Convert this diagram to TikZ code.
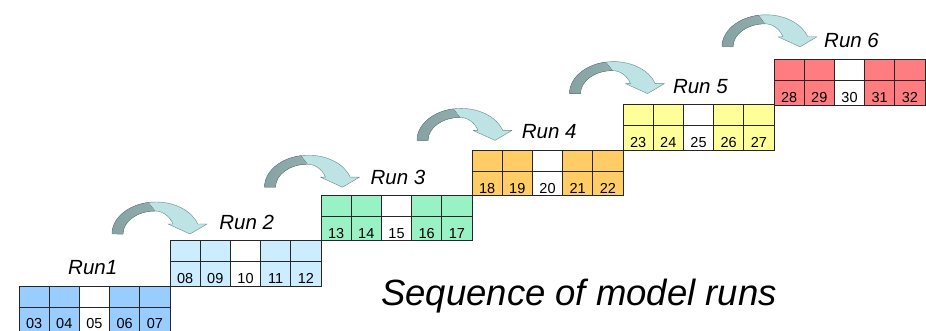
\documentclass[tikz,border=0pt]{standalone}
\usepackage{fontspec}
\setmainfont{Liberation Sans}
\usetikzlibrary{calc}

% block colours, one per run
\definecolor{runA}{HTML}{99CCFF}
\definecolor{runB}{HTML}{CCECFF}
\definecolor{runC}{HTML}{99F2C4}
\definecolor{runD}{HTML}{FFCC66}
\definecolor{runE}{HTML}{FFFF99}
\definecolor{runF}{HTML}{FF7C80}
% curved arrow colours
\definecolor{arrDark}{HTML}{86A2A2}
\definecolor{arrDarkHi}{HTML}{9FBBBB}
\definecolor{arrLight}{HTML}{BEE3E5}
\definecolor{arrEdge}{HTML}{6A8888}

% outline of the bent arrow: rising leg, crest, widening descending leg, head
\newcommand{\turnoutline}{(0,0) arc[start angle=180,end angle=18.2,x radius=44pt,y radius=32pt]
  -- (95,10) -- (78,0) -- (56,10) -- (61,10)
  arc[start angle=25.8,end angle=90,x radius=20pt,y radius=23pt]
  arc[start angle=90,end angle=180,x radius=32pt,y radius=23pt] -- cycle}

\tikzset{
  cell/.style={draw=black!85, line width=0.8pt, minimum width=30.2pt,
    inner sep=0pt, outer sep=0pt},
  num/.style={anchor=base, inner sep=0pt, font=\fontsize{14.5}{14.5}\selectfont},
  runlabel/.style={anchor=base west, inner sep=0pt,
    font=\fontsize{20.5}{20.5}\selectfont\itshape},
  headline/.style={anchor=base west, inner sep=0pt,
    font=\fontsize{36.5}{36.5}\selectfont\itshape},
  pics/turnarrow/.style={code={
    % light front half
    \fill[arrLight] \turnoutline;
    % darker rising leg, ending in a slanted seam at the crest
    \begin{scope}
      \clip (-3,-3) -- (-3,40) -- (29.8,40) -- (46.9,18) -- (46.9,-3) -- cycle;
      \fill[left color=arrDark, right color=arrDarkHi] \turnoutline;
    \end{scope}
    \draw[arrEdge, line width=0.4pt, line join=round] \turnoutline;
  }}
}

\begin{document}
\begin{tikzpicture}[x=1pt,y=1pt]
  \fill[white] (0,0) rectangle (926,331);
  \useasboundingbox (0,0) rectangle (926,331);

  % staircase of run blocks: five columns, two rows each
  \foreach \k/\col in {0/runA,1/runB,2/runC,3/runD,4/runE,5/runF}{
    \foreach \i in {0,...,4}{
      \pgfmathtruncatemacro\n{3+5*\k+\i}
      \ifnum\i=2 \def\fillc{white}\else\def\fillc{\col}\fi
      \node[cell, fill=\fillc, minimum height=21pt, anchor=north west]
        (top-\k-\i) at ({19+151*\k+30.2*\i}, {45+45.3*\k}) {};
      \node[cell, fill=\fillc, minimum height=24.5pt, anchor=north]
        (bot-\k-\i) at (top-\k-\i.south) {};
      \node[num] (num-\k-\i) at ($(bot-\k-\i.south)+(0,2.5)$) {\ifnum\n<10 0\fi\n};
    }
  }

  % run labels
  \foreach \k/\txt in {0/Run1,1/Run 2,2/Run 3,3/Run 4,4/Run 5,5/Run 6}{
    \node[runlabel] (run-\k) at ({68+151.2*\k}, {56+45.4*\k}) {\txt};
  }

  % curved arrows between consecutive runs
  \foreach \j in {0,...,4}{
    \pic (arr-\j) at ({112+152.5*\j}, {97+46.8*\j}) {turnarrow};
  }

  \node[headline] (caption) at (381, 25.5) {Sequence of model runs};
\end{tikzpicture}
\end{document}
